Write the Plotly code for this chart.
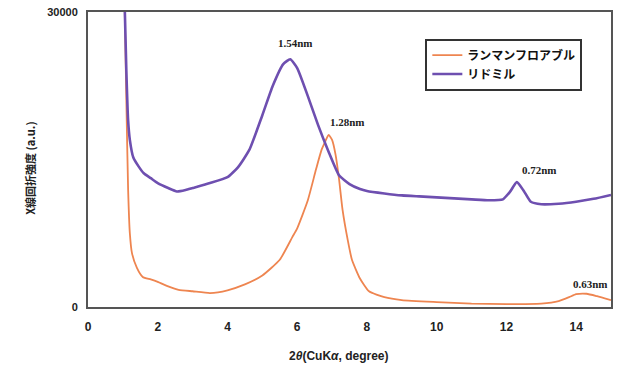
import plotly.graph_objects as go

# Data
ridomil_x = [1.05, 1.1, 1.15, 1.2, 1.3, 1.45, 1.6, 1.8, 2.0, 2.3, 2.55, 2.8, 3.0, 3.5, 4.0, 4.3, 4.63, 5.0, 5.3, 5.6, 5.8, 6.0, 6.3, 6.6, 6.9, 7.2, 7.5, 7.8, 8.0, 8.5, 9.0, 9.5, 10.0, 10.5, 11.0, 11.5, 11.9, 12.1, 12.3, 12.5, 12.7, 13.0, 13.5, 14.0, 14.5, 15.0]
ridomil_y = [31000, 24000, 19000, 17000, 15200, 14300, 13600, 13100, 12600, 12100, 11750, 11900, 12100, 12600, 13200, 14200, 16000, 19500, 22500, 24700, 25200, 24300, 21500, 18500, 15800, 13400, 12500, 12000, 11800, 11550, 11350, 11250, 11150, 11050, 10950, 10850, 10950, 11700, 12700, 11800, 10700, 10450, 10500, 10700, 11000, 11400]

ranman_x = [1.05, 1.1, 1.15, 1.2, 1.26, 1.4, 1.57, 1.8, 2.0, 2.3, 2.6, 3.0, 3.5, 4.0, 4.5, 5.0, 5.5, 5.86, 6.0, 6.3, 6.54, 6.7, 6.8, 6.9, 7.0, 7.1, 7.2, 7.3, 7.45, 7.57, 7.8, 8.06, 8.5, 9.0, 10.0, 11.0, 12.0, 13.0, 13.5, 13.8, 14.0, 14.3, 14.6, 15.0]
ranman_y = [31000, 21000, 12000, 7500, 5500, 4000, 3050, 2800, 2550, 2100, 1750, 1600, 1420, 1700, 2300, 3200, 4800, 7100, 8000, 10800, 14000, 16000, 16800, 17500, 17000, 15500, 13000, 9900, 6800, 4800, 2900, 1600, 1000, 700, 500, 350, 300, 350, 600, 1000, 1300, 1350, 1100, 700]

peak_labels = ["1.54nm", "1.28nm", "0.72nm", "0.63nm"]
peak_x = [5.95, 7.45, 12.95, 14.4]
peak_y = [26000, 18000, 13100, 1500]

x_ticks = [0, 2, 4, 6, 8, 10, 12, 14]
y_ticks = [0, 30000]

ORANGE = "#EE8550"
PURPLE = "#6E4FB0"
FRAME = "#555555"
JP = "Noto Sans CJK JP"

fig = go.Figure()
fig.add_trace(go.Scatter(x=ranman_x, y=ranman_y, mode="lines", name="<b>ランマンフロアブル</b>",
                         line=dict(color=ORANGE, width=1.8, shape="spline", smoothing=0.5)))
fig.add_trace(go.Scatter(x=ridomil_x, y=ridomil_y, mode="lines", name="<b>リドミル</b>",
                         line=dict(color=PURPLE, width=2.6, shape="spline", smoothing=0.5)))

for t, xx, yy in zip(peak_labels, peak_x, peak_y):
    fig.add_annotation(x=xx, y=yy, text="<b>" + t + "</b>", showarrow=False,
                       font=dict(family="Liberation Serif", size=11, color="#222222"),
                       xanchor="center", yanchor="bottom")

fig.add_annotation(xref="paper", yref="paper", x=0.48, y=-0.135, text="<b>2<i>θ</i>(CuK<i>α</i>, degree)</b>",
                   showarrow=False, xanchor="center", yanchor="top",
                   font=dict(family="Liberation Sans", size=12, color="#222222"))
fig.add_annotation(xref="paper", yref="paper", x=-0.11, y=0.47, text="<b>X線回折強度 (a.u.)</b>",
                   showarrow=False, textangle=-90, xanchor="center", yanchor="middle",
                   font=dict(family=JP, size=11, color="#222222"))

fig.update_layout(
    width=618, height=365,
    margin=dict(l=88, r=5, t=12, b=58),
    paper_bgcolor="white", plot_bgcolor="white",
    showlegend=True,
    legend=dict(x=0.645, y=0.91, xanchor="left", yanchor="top",
                bgcolor="white", bordercolor="#333333", borderwidth=2,
                font=dict(family=JP, size=12, color="#111111"),
                tracegroupgap=0, itemwidth=30),
    font=dict(family="Liberation Sans", color="#222222"),
)
fig.update_xaxes(range=[0, 15], tickvals=x_ticks, ticktext=["<b>%d</b>" % v for v in x_ticks],
                 showgrid=False, zeroline=False, showline=True, linecolor=FRAME, linewidth=2,
                 mirror=True, ticks="", tickfont=dict(size=12, color="#222222"), ticklabelstandoff=8)
fig.update_yaxes(range=[0, 30000], tickvals=y_ticks, ticktext=["<b>%d</b>" % v for v in y_ticks],
                 showgrid=False, zeroline=False, showline=True, linecolor=FRAME, linewidth=2,
                 mirror=True, ticks="", tickfont=dict(size=11, color="#222222"), ticklabelstandoff=6)

fig.write_html("out.html")
